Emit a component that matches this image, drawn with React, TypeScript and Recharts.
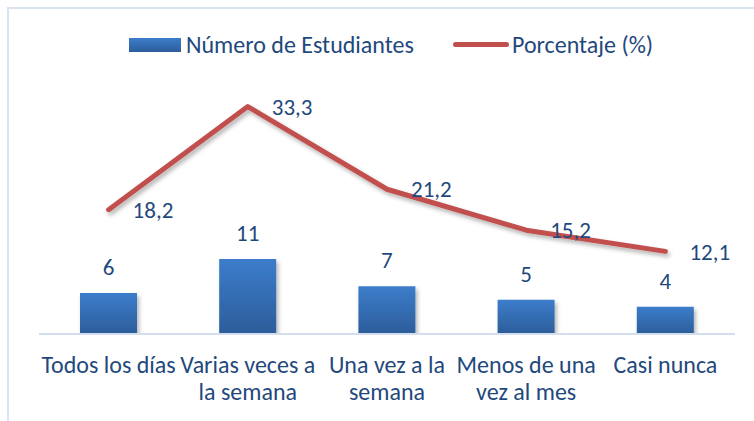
import React from "react";
import { ComposedChart, Bar, Line, XAxis, YAxis, LabelList, Legend } from "recharts";

const categories = [
  "Todos los días",
  "Varias veces a\nla semana",
  "Una vez a la\nsemana",
  "Menos de una\nvez al mes",
  "Casi nunca",
];
const estudiantes = [6, 11, 7, 5, 4];
const porcentaje = [18.2, 33.3, 21.2, 15.2, 12.1];
const seriesNames = ["Número de Estudiantes", "Porcentaje (%)"];

const data = categories.map((c, i) => ({
  cat: c,
  est: estudiantes[i],
  pct: porcentaje[i],
}));

const FONT = "Carlito, Lato, sans-serif";
const TXT = "#1F497D";

const CatTick = (props: any) => {
  const { x, y, payload } = props;
  const lines = String(payload.value).split("\n");
  return (
    <g>
      {lines.map((l, i) => (
        <text
          key={i}
          x={x}
          y={y + 31 + i * 27}
          textAnchor="middle"
          fill={TXT}
          fontSize={24}
          fontFamily={FONT}
        >
          {l}
        </text>
      ))}
    </g>
  );
};

const LegendContent = () => (
  <div style={{ position: "relative", width: 754, height: 30, fontFamily: FONT, fontSize: 24, color: TXT }}>
    <div
      style={{
        position: "absolute",
        left: 129,
        top: 8,
        width: 52,
        height: 14,
        background: "linear-gradient(#3C7DCB, #2C5D9A)",
      }}
    />
    <div style={{ position: "absolute", left: 186, top: 0, lineHeight: "30px", whiteSpace: "nowrap" }}>{seriesNames[0]}</div>
    <div
      style={{
        position: "absolute",
        left: 453,
        top: 12,
        width: 56,
        height: 5,
        borderRadius: 3,
        background: "#C0504D",
      }}
    />
    <div style={{ position: "absolute", left: 512, top: 0, lineHeight: "30px", whiteSpace: "nowrap" }}>{seriesNames[1]}</div>
  </div>
);

const fmt = (v: any) => String(v).replace(".", ",");

export default function App() {
  return (
    <div style={{ position: "absolute", left: 0, top: 0, width: 754, height: 421, background: "#fff" }}>
      <div
        style={{
          position: "absolute",
          left: 7,
          top: 7,
          width: 800,
          height: 500,
          borderLeft: "2px solid #DAE3F1",
          borderTop: "2px solid #DAE3F1",
        }}
      />
      <ComposedChart
        width={754}
        height={421}
        data={data}
        margin={{ top: 65, right: 19, bottom: 27, left: 39 }}
        style={{ position: "absolute", left: 0, top: 0 }}
      >
        <defs>
          <linearGradient id="barGrad" x1="0" y1="0" x2="0" y2="1">
            <stop offset="0%" stopColor="#3C7DCB" />
            <stop offset="100%" stopColor="#2C5D9A" />
          </linearGradient>
          <filter id="shadow" x="-20%" y="-20%" width="140%" height="140%">
            <feDropShadow dx="2" dy="3" stdDeviation="2" floodColor="#000" floodOpacity="0.3" />
          </filter>
        </defs>
        <XAxis
          dataKey="cat"
          height={60}
          tickLine={false}
          axisLine={{ stroke: "#D3DEEE", strokeWidth: 2 }}
          tick={<CatTick />}
          interval={0}
        />
        <YAxis hide domain={[0, 35]} allowDataOverflow />
        <Legend verticalAlign="top" content={<LegendContent />} wrapperStyle={{ top: 30, left: 0, width: 754, height: 30 }} />
        <Bar dataKey="est" fill="url(#barGrad)" barSize={57} isAnimationActive={false} filter="url(#shadow)">
          <LabelList dataKey="est" position="top" offset={18} fill={TXT} fontSize={23} fontFamily={FONT} />
        </Bar>
        <Line
          dataKey="pct"
          stroke="#C0504D"
          strokeWidth={5}
          dot={false}
          activeDot={false}
          strokeLinecap="round"
          strokeLinejoin="round"
          isAnimationActive={false}
          filter="url(#shadow)"
        >
          <LabelList dataKey="pct" position="right" offset={24} fill={TXT} fontSize={23} fontFamily={FONT} formatter={fmt} />
        </Line>
      </ComposedChart>
    </div>
  );
}
